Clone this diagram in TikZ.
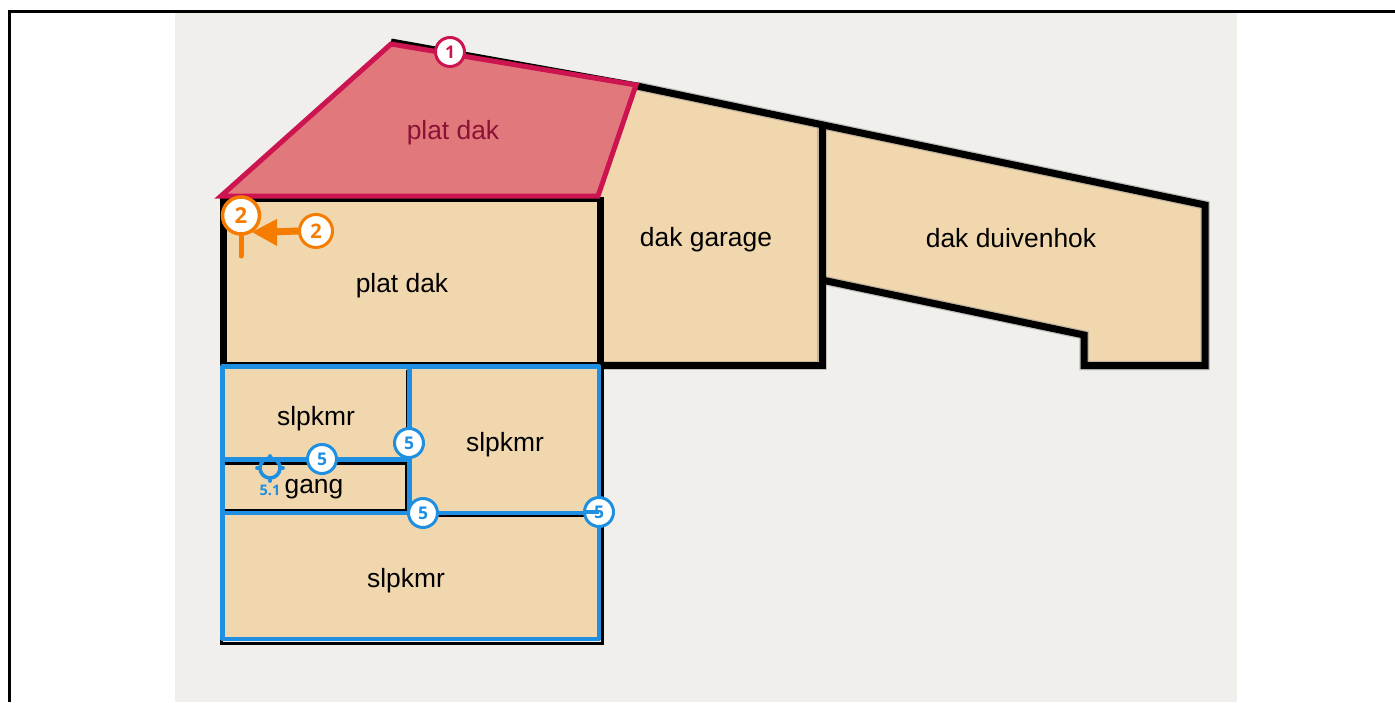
\documentclass[tikz,border=0pt]{standalone}
\usepackage{fontspec}
\setmainfont{Liberation Sans}
\setsansfont{Open Sans}
\definecolor{bgc}{HTML}{F0EFEB}
\definecolor{room}{HTML}{F1D7AE}
\definecolor{redf}{HTML}{E1787C}
\definecolor{reds}{HTML}{CC1450}
\definecolor{redt}{HTML}{8A1234}
\definecolor{bluec}{HTML}{1E8FE1}
\definecolor{orc}{HTML}{F57C00}
\tikzset{
  wall/.style={draw=black,line width=7pt,miter limit=10},
  wallglow/.style={draw=black!45,line width=9.5pt,miter limit=10,opacity=.45},
  thinwall/.style={draw=black,line width=3pt},
  bluewall/.style={draw=bluec,line width=4.8pt,line join=round},
  lab/.style={font=\fontsize{26.4}{28}\selectfont,text=black,inner sep=0pt},
  badge/.style={circle,draw=#1,fill=white,line width=3pt,text=#1,inner sep=0pt,minimum size=29pt,font=\fontsize{17.5}{18}\sffamily\bfseries\selectfont},
}
\begin{document}
\begin{tikzpicture}[x=1pt,y=-1pt]
\useasboundingbox (0,0) rectangle (1395,702);
\fill[white] (0,0) rectangle (1395,702);
\fill[bgc] (175,12) rectangle (1237,702);
\draw[black,line width=3.5pt] (9.5,702) -- (9.5,11.5) -- (1395,11.5);
% rooms
\fill[room] (223,196) -- (391,41) -- (637,86) -- (1205,205) -- (1205,365) -- (1084,365) -- (1084,335) -- (822,280) -- (822,365) -- (600,365) -- (600,640) -- (223,640) -- cycle;
% black walls
\draw[wallglow] (637,86) -- (1205,205) -- (1205,365.5) -- (1084,365.5) -- (1084,335) -- (822,280);
\draw[wallglow] (822,125) -- (822,365.5) -- (600,365.5);
\draw[wall] (391,42) -- (637,86) -- (1205,205) -- (1205,365.5) -- (1084,365.5) -- (1084,335) -- (822,280);
\draw[wall] (822,125) -- (822,365.5) -- (223,365.5);
\draw[wall] (600,197) -- (600,366);
\draw[wall] (219.5,198) -- (600,198);
\draw[wall] (223,198) -- (223,366);
\draw[thinwall] (221,368) -- (221,643.5) -- (602,643.5) -- (602,368);
\draw[thinwall] (225,463) -- (405,463);
\draw[thinwall] (225,510) -- (405,510);
\draw[thinwall] (412,515.5) -- (597,515.5);
\draw[thinwall] (406,462) -- (406,512);
\draw[black,line width=1pt] (406.5,370) -- (406.5,458);
% red area
\fill[redf] (221,196) -- (391,44) -- (636,85) -- (598,196) -- cycle;
\draw[draw=reds,line width=5pt,miter limit=10] (221,196) -- (391,44) -- (636,85) -- (598,196) -- cycle;
% blue rooms
\draw[bluewall] (222.5,366.5) rectangle (599,639);
\draw[bluewall] (409.5,367) -- (409.5,513);
\draw[bluewall] (222.5,459.5) -- (409.5,459.5);
\draw[bluewall] (222.5,513) -- (599,513);
% labels
\node[lab,text=redt] (t1) at (453,132.5) {plat dak};
\node[lab] (t2) at (402,286) {plat dak};
\node[lab] (t3) at (706,240) {dak garage};
\node[lab] (t4) at (1011,238) {dak duivenhok};
\node[lab] (t5) at (316,419) {slpkmr};
\node[lab] (t6) at (505,445) {slpkmr};
\node[lab] (t7) at (406,581) {slpkmr};
\node[lab] (t8) at (314,489) {gang};
% orange marker
\coordinate (tickend) at (241,256);
\coordinate (tip) at (252,232);
\node[badge=orc,line width=3.5pt,minimum size=37pt,font=\fontsize{22}{23}\sffamily\bfseries\selectfont] (o1) at (241,215.5) {2};
\node[badge=orc,minimum size=33pt,font=\fontsize{20}{21}\sffamily\bfseries\selectfont] (o2) at (316,231) {2};
\draw[orc,line width=5pt,line cap=round] (o1.south) -- (tickend);
\draw[orc,line width=7pt] (o2.west) -- (270,232);
\fill[orc] (tip) -- (277,219) -- (277,246) -- cycle;
% red badge
\node[badge=reds] (r1) at (450,52) {1};
% blue badges
\node[badge=bluec] (b1) at (322,459) {5};
\node[badge=bluec] (b2) at (409,443) {5};
\node[badge=bluec] (b3) at (423,513) {5};
\node[badge=bluec] (b4) at (599,512) {5};
\draw[bluec,line width=3.5pt] (b4.west) -- (b4.center);
% target
\node[circle,draw=bluec,line width=3.6pt,minimum size=20pt,inner sep=0pt] (tg) at (270,468) {};
\draw[bluec,line width=3.6pt,line cap=round] (270,456) -- (tg.north) (270,481) -- (tg.south) (257,468) -- (tg.west) (283,468) -- (tg.east);
\node[text=bluec,inner sep=0pt,font=\fontsize{14.5}{15}\sffamily\bfseries\selectfont] (tgl) at (270,490) {5.1};
\end{tikzpicture}
\end{document}
